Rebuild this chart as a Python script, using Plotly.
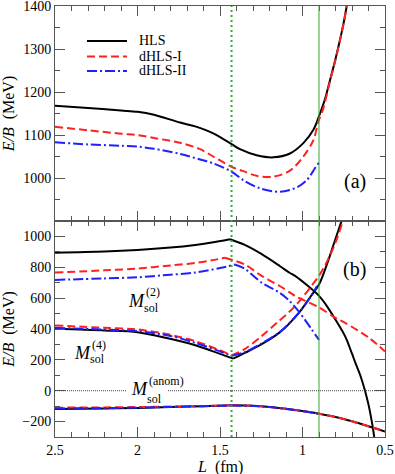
import plotly.graph_objects as go

# ---------------- data ----------------
# Panel (a): E/B vs L
L_a_hls = [2.5, 2.3, 2.1, 2.0, 1.9, 1.742, 1.65, 1.541, 1.43, 1.379, 1.278, 1.177, 1.076, 0.995, 0.934, 0.894, 0.864, 0.833, 0.8, 0.773, 0.75, 0.732]
E_a_hls = [1168, 1163, 1157, 1154, 1147, 1129, 1120, 1104, 1079, 1067, 1053, 1048, 1057, 1081, 1112, 1150, 1183, 1228, 1277, 1321, 1362, 1400]

L_a_d1 = [2.5, 2.3, 2.1, 2.0, 1.9, 1.742, 1.62, 1.541, 1.43, 1.359, 1.278, 1.177, 1.076, 0.995, 0.934, 0.904, 0.874, 0.833, 0.8, 0.773, 0.75, 0.732]
E_a_d1 = [1119, 1111, 1103, 1100, 1093, 1082, 1067, 1050, 1026, 1016, 1005, 1003, 1017, 1050, 1088, 1131, 1162, 1226, 1275, 1320, 1361, 1400]

L_a_d2 = [2.5, 2.3, 2.1, 2.0, 1.9, 1.742, 1.62, 1.541, 1.43, 1.359, 1.258, 1.136, 1.035, 0.974, 0.924, 0.9]
E_a_d2 = [1083, 1078, 1075, 1073, 1068, 1056, 1043, 1034, 1015, 995, 976, 968, 978, 995, 1023, 1036]

# Panel (b): soliton masses
L_hls_m2 = [2.5, 2.2, 2.0, 1.8, 1.65, 1.55, 1.44, 1.35, 1.247, 1.136, 1.076, 1.045, 0.9, 0.85, 0.8, 0.75, 0.732, 0.7, 0.68, 0.65, 0.62, 0.6, 0.58, 0.565]
E_hls_m2 = [895, 902, 912, 928, 945, 960, 982, 945, 885, 807, 763, 744, 615, 545, 460, 370, 330, 240, 182, 100, -5, -90, -200, -300]

L_hls_m4 = [2.5, 2.2, 2.0, 1.83, 1.65, 1.55, 1.42, 1.35, 1.25, 1.136, 1.076, 1.015, 0.945, 0.9, 0.85, 0.8, 0.76]
E_hls_m4 = [401, 390, 379, 343, 295, 258, 208, 245, 300, 380, 440, 514, 620, 688, 825, 985, 1110]

L_d1_m2 = [2.5, 2.2, 2.0, 1.8, 1.65, 1.55, 1.47, 1.35, 1.25, 1.136, 1.076, 1.045, 1.0, 0.9, 0.8, 0.742, 0.6, 0.5]
E_d1_m2 = [766, 780, 792, 812, 828, 845, 862, 818, 746, 677, 636, 614, 590, 540, 472, 440, 345, 254]

L_d1_m4 = [2.5, 2.2, 2.0, 1.8, 1.65, 1.5, 1.43, 1.35, 1.25, 1.15, 1.076, 1.015, 0.945, 0.9, 0.85, 0.8, 0.755]
E_d1_m4 = [423, 408, 397, 362, 321, 262, 228, 270, 352, 445, 515, 585, 680, 745, 840, 960, 1100]

L_d2_m2 = [2.5, 2.2, 2.0, 1.8, 1.65, 1.5, 1.41, 1.35, 1.247, 1.136, 1.076, 1.015, 0.945, 0.9]
E_d2_m2 = [718, 728, 735, 752, 766, 795, 818, 790, 700, 633, 579, 503, 398, 330]

L_d2_m4 = [2.5, 2.2, 2.0, 1.8, 1.65, 1.5, 1.43, 1.35, 1.25, 1.136, 1.015, 0.945, 0.912]
E_d2_m4 = [408, 396, 386, 355, 310, 255, 226, 250, 305, 382, 514, 618, 678]

L_hls_an = [2.5, 2.2, 2.0, 1.8, 1.6, 1.43, 1.3, 1.2, 1.1, 1.0, 0.9, 0.8, 0.7, 0.6, 0.5]
E_hls_an = [-118, -115, -112, -106, -100, -95, -98, -105, -117, -132, -149, -170, -198, -230, -264]

L_d1_an = [2.5, 2.2, 2.0, 1.8, 1.6, 1.43, 1.3, 1.2, 1.1, 1.0, 0.9, 0.8, 0.7, 0.6, 0.5]
E_d1_an = [-110, -108, -106, -103, -99, -95, -98, -105, -117, -132, -149, -170, -198, -230, -264]

L_d2_an = [2.5, 2.2, 2.0, 1.8, 1.6, 1.43, 1.3, 1.2, 1.1, 1.0, 0.9]
E_d2_an = [-115, -113, -110, -105, -100, -96, -99, -106, -118, -133, -149]

L_kink = 1.43      # dotted green line
L_cut = 0.9        # solid green line

series_names = ["HLS", "dHLS-I", "dHLS-II"]
x_ticks = [2.5, 2.0, 1.5, 1.0, 0.5]
x_ticktext = ["2.5", "2", "1.5", "1", "0.5"]
ya_ticks = [1000, 1100, 1200, 1300, 1400]
yb_ticks = [-200, 0, 200, 400, 600, 800, 1000]

# ---------------- figure ----------------
FONT = '"Liberation Serif", "Times New Roman", Times, serif'
BLACK = "black"
RED = "#ff2020"
BLUE = "#1f1fff"
GREEN = "#33aa33"

sty = {
    "k": dict(color=BLACK, width=2),
    "r": dict(color=RED, width=2, dash="8px,4px"),
    "b": dict(color=BLUE, width=2, dash="10px,3px,2px,3px"),
}

W, H = 395, 474
ML, MR, MT, MB = 55, 10, 6, 37
PW, PH = W - ML - MR, H - MT - MB

fig = go.Figure()

def add_curve(xs, ys, key, xa, ya, kink=None):
    """Add a curve; split at kink so the spline keeps the corner sharp."""
    segs = []
    if kink is None:
        segs.append((xs, ys))
    else:
        i = min(range(len(xs)), key=lambda j: abs(xs[j] - kink))
        segs.append((xs[:i + 1], ys[:i + 1]))
        segs.append((xs[i:], ys[i:]))
    for sx, sy in segs:
        fig.add_trace(go.Scatter(
            x=sx, y=sy, mode="lines", line=dict(**sty[key], shape="spline", smoothing=0.9),
            xaxis=xa, yaxis=ya, showlegend=False, hoverinfo="skip"))

# Panel (a)
add_curve(L_a_hls, E_a_hls, "k", "x2", "y2")
add_curve(L_a_d1, E_a_d1, "r", "x2", "y2")
add_curve(L_a_d2, E_a_d2, "b", "x2", "y2")

# Panel (b)
add_curve(L_hls_m2, E_hls_m2, "k", "x", "y", kink=1.44)
add_curve(L_hls_m4, E_hls_m4, "k", "x", "y", kink=1.42)
add_curve(L_hls_an, E_hls_an, "k", "x", "y", kink=1.43)
add_curve(L_d1_m2, E_d1_m2, "r", "x", "y", kink=1.47)
add_curve(L_d1_m4, E_d1_m4, "r", "x", "y", kink=1.43)
add_curve(L_d1_an, E_d1_an, "r", "x", "y", kink=1.43)
add_curve(L_d2_m2, E_d2_m2, "b", "x", "y", kink=1.41)
add_curve(L_d2_m4, E_d2_m4, "b", "x", "y", kink=1.43)
add_curve(L_d2_an, E_d2_an, "b", "x", "y", kink=1.43)

# vertical reference lines
fig.add_shape(type="line", xref="x", yref="paper", x0=L_kink, x1=L_kink, y0=0, y1=1,
              line=dict(color=GREEN, width=2, dash="2px,3px"))
fig.add_shape(type="line", xref="x", yref="paper", x0=L_cut, x1=L_cut, y0=0, y1=1,
              line=dict(color=GREEN, width=1))
# zero line (gap for label)
for xa0, xa1 in [(2.5, 2.064), (1.815, 0.5)]:
    fig.add_shape(type="line", xref="x", yref="y", x0=xa0, x1=xa1, y0=0, y1=0,
                  line=dict(color="#444", width=1, dash="1px,1px"))

# legend (drawn in the upper panel)
def px2paper(px, py):
    return (px - ML) / PW, 1 - (py - MT) / PH

for k, (key, name) in enumerate(zip(["k", "r", "b"], series_names)):
    yy = [41, 56.5, 71][k]
    x0, y0 = px2paper(87, yy)
    x1, _ = px2paper(127, yy)
    xt, _ = px2paper(137, yy)
    fig.add_shape(type="line", xref="paper", yref="paper", x0=x0, x1=x1, y0=y0, y1=y0,
                  line=sty[key])
    fig.add_annotation(text=name, x=xt, y=y0, xref="paper", yref="paper", showarrow=False,
                       xanchor="left", yanchor="middle",
                       font=dict(family=FONT, size=14, color="black"))

axis_common = dict(
    ticks="inside", ticklen=10, tickwidth=1, tickcolor="#555",
    showline=True, linecolor="#555", linewidth=1, mirror="ticks",
    showgrid=False, zeroline=False, automargin=False, ticklabeloverflow="allow",
    tickfont=dict(family=FONT, size=14, color="black"),
)

dom_split = 216 / PH
fig.update_layout(
    width=W, height=H,
    margin=dict(l=ML, r=MR, t=MT, b=MB),
    paper_bgcolor="white", plot_bgcolor="white",
    font=dict(family=FONT, size=14, color="black"),
    showlegend=False,
    xaxis=dict(**axis_common, range=[2.5, 0.5], tickvals=x_ticks, ticktext=x_ticktext,
               minor=dict(ticks="inside", ticklen=5, tickcolor="#555", dtick=0.1, tick0=0.5, showgrid=False),
               anchor="y", domain=[0, 1]),
    xaxis2=dict(**axis_common, range=[2.5, 0.5], tickvals=x_ticks, showticklabels=False,
                minor=dict(ticks="inside", ticklen=5, tickcolor="#555", dtick=0.1, tick0=0.5, showgrid=False),
                anchor="y2", domain=[0, 1]),
    yaxis=dict(**axis_common, range=[-300, 1100], tickvals=yb_ticks,
               minor=dict(ticks="inside", ticklen=5, tickcolor="#555", dtick=100, tick0=0, showgrid=False),
               domain=[0, dom_split], anchor="x",
               title=dict(text="<i>E/B</i>  (MeV)", font=dict(family=FONT, size=16), standoff=4)),
    yaxis2=dict(**axis_common, range=[900, 1400], tickvals=ya_ticks,
                minor=dict(ticks="inside", ticklen=5, tickcolor="#555", dtick=50, tick0=0, showgrid=False),
                domain=[dom_split, 1], anchor="x2",
                title=dict(text="<i>E/B</i>  (MeV)", font=dict(family=FONT, size=16), standoff=4)),
)

# x-axis title placed just below the tick labels
_, y_xt = px2paper(0, 456)
fig.add_annotation(text="<i>L</i>  (fm)", x=0.5, y=y_xt, xref="paper", yref="paper",
                   showarrow=False, xanchor="center", yanchor="top",
                   font=dict(family=FONT, size=16, color="black"))

def ann(text, x, y, size, xref="x", yref="y"):
    fig.add_annotation(text=text, x=x, y=y, xref=xref, yref=yref, showarrow=False,
                       font=dict(family=FONT, size=size, color="black"),
                       xanchor="center", yanchor="middle")

ann("(a)", 0.682, 991, 20, "x2", "y2")
ann("(b)", 0.682, 787, 20, "x", "y")

# soliton labels
for (mx, my), (px, py), (sx, sy), sup in [
    ((2.009, 584), (1.909, 641), (1.915, 533), "(2)"),
    ((2.336, 247), (2.233, 299), (2.242, 205), "(4)"),
    ((1.988, 10), (1.824, 62), (1.894, -52), "(anom)"),
]:
    ann("<i>M</i>", mx, my, 18)
    ann(sup, px, py, 12)
    ann("sol", sx, sy, 12)

fig.write_html(
    "out.html",
    config={"displayModeBar": False},
    post_script="document.body.style.margin='0';document.body.style.padding='0';"
                "document.documentElement.style.overflow='hidden';",
)
